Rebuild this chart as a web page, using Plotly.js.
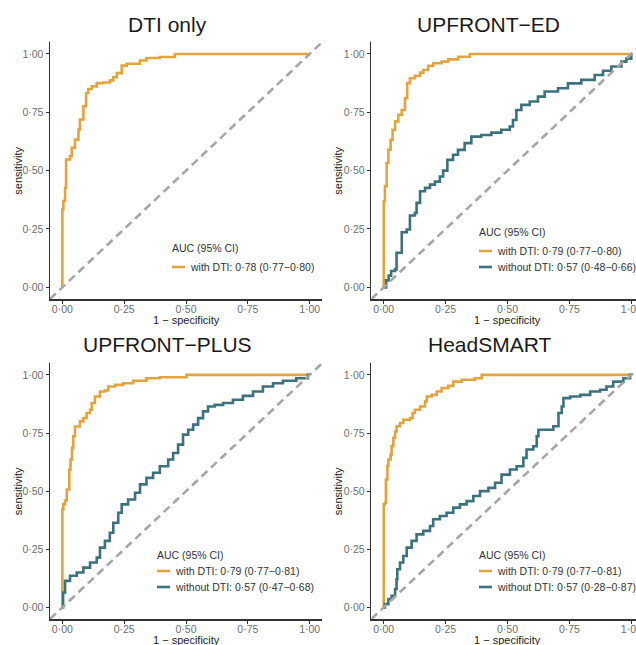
<!DOCTYPE html>
<html>
<head>
<meta charset="utf-8">
<script src="https://cdn.plot.ly/plotly-3.0.1.min.js"></script>
<style>html,body{margin:0;padding:0;background:#fff;}#chart{width:636px;height:645px;}</style>
</head>
<body>
<div id="chart"></div>
<script>
// ---------- data ----------
const panelTitles = ['DTI only', 'UPFRONT−ED', 'UPFRONT−PLUS', 'HeadSMART'];
const tickVals = [0, 0.25, 0.5, 0.75, 1];
const tickLabels = ['0·00', '0·25', '0·50', '0·75', '1·00'];
const xTitle = '1 − specificity';
const yTitle = 'sensitivity';
const legendTitle = 'AUC (95% CI)';
const seriesNames = ['with DTI', 'without DTI'];

const legendDtiOnly = ['with DTI: 0·78 (0·77−0·80)'];
const legendEd = ['with DTI: 0·79 (0·77−0·80)', 'without DTI: 0·57 (0·48−0·66)'];
const legendPlus = ['with DTI: 0·79 (0·77−0·81)', 'without DTI: 0·57 (0·47−0·68)'];
const legendHead = ['with DTI: 0·79 (0·77−0·81)', 'without DTI: 0·57 (0·28−0·87)'];

// DTI only
const dtiWithX = [0, 0, 0.004, 0.011, 0.015, 0.031, 0.038, 0.051, 0.065, 0.071, 0.085, 0.096, 0.105, 0.119, 0.139, 0.166, 0.193, 0.206, 0.22, 0.24, 0.26, 0.314, 0.34, 0.394, 0.455, 1.0];
const dtiWithY = [0, 0.334, 0.37, 0.427, 0.548, 0.562, 0.598, 0.633, 0.676, 0.719, 0.776, 0.833, 0.85, 0.861, 0.875, 0.878, 0.887, 0.9, 0.918, 0.95, 0.958, 0.972, 0.983, 0.987, 1.0, 1.0];

// UPFRONT-ED
const edWithX = [0, 0, 0.005, 0.012, 0.019, 0.028, 0.036, 0.046, 0.059, 0.073, 0.086, 0.095, 0.106, 0.126, 0.147, 0.160, 0.18, 0.2, 0.234, 0.261, 0.301, 0.348, 1.0];
const edWithY = [0, 0.369, 0.433, 0.533, 0.59, 0.632, 0.675, 0.711, 0.739, 0.76, 0.81, 0.875, 0.896, 0.906, 0.92, 0.931, 0.949, 0.96, 0.967, 0.977, 0.988, 1.0, 1.0];
const edWithoutX = [0, 0.01, 0.02, 0.03, 0.046, 0.052, 0.073, 0.093, 0.106, 0.126, 0.133, 0.147, 0.167, 0.187, 0.207, 0.227, 0.24, 0.257, 0.28, 0.30, 0.327, 0.354, 0.394, 0.435, 0.475, 0.509, 0.522, 0.536, 0.556, 0.59, 0.623, 0.65, 0.704, 0.744, 0.798, 0.852, 0.886, 0.919, 0.96, 0.98, 1.0];
const edWithoutY = [0, 0.03, 0.05, 0.07, 0.077, 0.148, 0.236, 0.248, 0.308, 0.319, 0.362, 0.412, 0.426, 0.44, 0.453, 0.475, 0.50, 0.546, 0.568, 0.589, 0.618, 0.646, 0.653, 0.663, 0.675, 0.689, 0.717, 0.76, 0.782, 0.796, 0.817, 0.839, 0.853, 0.874, 0.889, 0.91, 0.928, 0.946, 0.967, 0.98, 1.0];

// UPFRONT-PLUS
const plusWithX = [0, 0, 0.004, 0.011, 0.018, 0.028, 0.033, 0.039, 0.044, 0.051, 0.071, 0.085, 0.098, 0.112, 0.119, 0.132, 0.152, 0.172, 0.186, 0.213, 0.246, 0.287, 0.34, 0.394, 0.502, 1.0];
const plusWithY = [0, 0.421, 0.444, 0.46, 0.507, 0.593, 0.636, 0.686, 0.736, 0.778, 0.8, 0.814, 0.836, 0.85, 0.879, 0.907, 0.929, 0.933, 0.95, 0.957, 0.964, 0.975, 0.986, 0.99, 1.0, 1.0];
const plusWithoutX = [0, 0.003, 0.011, 0.031, 0.058, 0.085, 0.112, 0.139, 0.152, 0.172, 0.192, 0.206, 0.226, 0.24, 0.266, 0.294, 0.314, 0.34, 0.367, 0.394, 0.428, 0.448, 0.468, 0.488, 0.509, 0.529, 0.549, 0.569, 0.589, 0.616, 0.65, 0.69, 0.73, 0.771, 0.811, 0.852, 0.892, 0.946, 0.993, 1.0];
const plusWithoutY = [0, 0.064, 0.114, 0.136, 0.15, 0.171, 0.193, 0.214, 0.257, 0.286, 0.321, 0.364, 0.407, 0.443, 0.464, 0.493, 0.529, 0.557, 0.579, 0.607, 0.636, 0.664, 0.7, 0.743, 0.764, 0.786, 0.814, 0.843, 0.864, 0.871, 0.879, 0.893, 0.91, 0.929, 0.95, 0.964, 0.975, 0.986, 1.0, 1.0];

// HeadSMART
const headWithX = [0, 0, 0.005, 0.009, 0.015, 0.019, 0.028, 0.032, 0.039, 0.046, 0.052, 0.066, 0.079, 0.106, 0.117, 0.126, 0.147, 0.167, 0.174, 0.194, 0.214, 0.234, 0.261, 0.281, 0.315, 0.369, 0.396, 1.0];
const headWithY = [0, 0.443, 0.45, 0.55, 0.607, 0.636, 0.657, 0.693, 0.729, 0.757, 0.779, 0.793, 0.807, 0.814, 0.836, 0.85, 0.864, 0.886, 0.907, 0.914, 0.929, 0.943, 0.953, 0.971, 0.979, 0.986, 1.0, 1.0];
const headWithoutX = [0, 0.005, 0.019, 0.032, 0.046, 0.052, 0.055, 0.066, 0.079, 0.093, 0.113, 0.133, 0.16, 0.187, 0.2, 0.227, 0.254, 0.281, 0.308, 0.335, 0.362, 0.389, 0.423, 0.45, 0.476, 0.51, 0.537, 0.564, 0.577, 0.604, 0.618, 0.625, 0.685, 0.706, 0.719, 0.726, 0.753, 0.794, 0.834, 0.874, 0.9, 0.927, 0.968, 0.995, 1.0];
const headWithoutY = [0, 0.014, 0.036, 0.05, 0.079, 0.121, 0.164, 0.193, 0.221, 0.257, 0.286, 0.314, 0.329, 0.35, 0.379, 0.393, 0.407, 0.429, 0.443, 0.457, 0.479, 0.5, 0.514, 0.536, 0.571, 0.593, 0.607, 0.643, 0.679, 0.693, 0.736, 0.764, 0.779, 0.836, 0.864, 0.9, 0.907, 0.914, 0.929, 0.936, 0.95, 0.971, 0.986, 1.0, 1.0];

const diagonal = [-0.05, 1.05];

// ---------- styling / layout ----------
const W = 636, H = 645;
const FONT = 'Liberation Sans, Arial, Helvetica, sans-serif';
const ORANGE = '#E3A33E';
const TEAL = '#3B727D';
const px = v => v / W;
const py = v => 1 - v / H;

const panels = [
  {title: panelTitles[0], withX: dtiWithX, withY: dtiWithY, legend: legendDtiOnly},
  {title: panelTitles[1], withX: edWithX, withY: edWithY, woX: edWithoutX, woY: edWithoutY, legend: legendEd},
  {title: panelTitles[2], withX: plusWithX, withY: plusWithY, woX: plusWithoutX, woY: plusWithoutY, legend: legendPlus},
  {title: panelTitles[3], withX: headWithX, withY: headWithY, woX: headWithoutX, woY: headWithoutY, legend: legendHead}
];

// pixel geometry of each panel
const geo = [
  {x0: 50, x1: 322, xr: [-0.05, 1.05], y0: 42.3, y1: 299, tx: 167, ty: 25, lx: 172, ltY: 248, lY: [267], xtY: 320, ytX: 18},
  {x0: 371.3, x1: 636, xr: [-0.05, 1.019], y0: 42.3, y1: 299, tx: 488, ty: 25, lx: 479, ltY: 232, lY: [251, 267], xtY: 320, ytX: 338},
  {x0: 50, x1: 322, xr: [-0.05, 1.05], y0: 363.3, y1: 619, tx: 167.5, ty: 345, lx: 157, ltY: 555, lY: [571, 587], xtY: 640, ytX: 18},
  {x0: 371.3, x1: 636, xr: [-0.05, 1.019], y0: 363.3, y1: 619, tx: 489.5, ty: 345, lx: 479, ltY: 555, lY: [571, 587], xtY: 640, ytX: 338}
];

const traces = [];
const layout = {
  width: W, height: H,
  margin: {l: 0, r: 0, t: 0, b: 0},
  paper_bgcolor: '#fff', plot_bgcolor: '#fff',
  showlegend: false,
  font: {family: FONT},
  annotations: [], shapes: []
};

panels.forEach((p, i) => {
  const g = geo[i];
  const n = i === 0 ? '' : String(i + 1);
  const xa = 'x' + n, ya = 'y' + n;
  const common = {
    showline: true, linecolor: '#333', linewidth: 1.5,
    ticks: 'outside', ticklen: 3, tickwidth: 1, tickcolor: '#333',
    tickvals: tickVals, ticktext: tickLabels, ticklabeloverflow: 'allow',
    tickfont: {size: 10.5, color: '#6e6e6e', family: FONT},
    showgrid: false, zeroline: false, fixedrange: true
  };
  layout['xaxis' + n] = Object.assign({}, common, {
    domain: [px(g.x0), px(g.x1)], range: g.xr, anchor: ya, ticklabelstandoff: -3
  });
  layout['yaxis' + n] = Object.assign({}, common, {
    domain: [py(g.y1), py(g.y0)], range: [-0.05, 1.05], anchor: xa
  });

  traces.push({x: p.withX, y: p.withY, xaxis: xa, yaxis: ya, type: 'scatter', mode: 'lines',
    name: seriesNames[0], line: {color: ORANGE, width: 2.6, shape: 'hv'}, hoverinfo: 'skip'});
  if (p.woX) {
    traces.push({x: p.woX, y: p.woY, xaxis: xa, yaxis: ya, type: 'scatter', mode: 'lines',
      name: seriesNames[1], line: {color: TEAL, width: 2.6, shape: 'hv'}, hoverinfo: 'skip'});
  }
  traces.push({x: diagonal, y: diagonal, xaxis: xa, yaxis: ya, type: 'scatter', mode: 'lines',
    name: 'reference', line: {color: '#A6A6A6', width: 2.6, dash: '8px,5px'}, hoverinfo: 'skip'});

  // x axis title
  layout.annotations.push({text: xTitle, xref: xa + ' domain', yref: 'paper',
    x: (0.5 - g.xr[0]) / (g.xr[1] - g.xr[0]), y: py(g.xtY),
    xanchor: 'center', yanchor: 'middle', showarrow: false, borderpad: 0,
    font: {size: 11, color: '#222', family: FONT}});
  // y axis title
  layout.annotations.push({text: yTitle, xref: 'paper', yref: ya + ' domain',
    x: px(g.ytX), y: 0.5, textangle: -90,
    xanchor: 'center', yanchor: 'middle', showarrow: false, borderpad: 0,
    font: {size: 11, color: '#222', family: FONT}});
  // panel title
  layout.annotations.push({text: p.title, xref: 'paper', yref: 'paper', x: px(g.tx), y: py(g.ty),
    xanchor: 'center', yanchor: 'middle', showarrow: false,
    font: {size: 21, color: '#1a1a1a', family: FONT}});
  // legend title
  layout.annotations.push({text: legendTitle, xref: 'paper', yref: 'paper', x: px(g.lx - 2), y: py(g.ltY),
    xanchor: 'left', yanchor: 'middle', showarrow: false,
    font: {size: 10.5, color: '#333', family: FONT}});
  p.legend.forEach((lab, k) => {
    const yy = g.lY[k];
    layout.shapes.push({type: 'line', xref: 'paper', yref: 'paper',
      x0: px(g.lx), x1: px(g.lx + 13), y0: py(yy), y1: py(yy),
      line: {color: k === 0 ? ORANGE : TEAL, width: 2.6}});
    layout.annotations.push({text: lab, xref: 'paper', yref: 'paper', x: px(g.lx + 16), y: py(yy),
      xanchor: 'left', yanchor: 'middle', showarrow: false,
      font: {size: 10.5, color: '#333', family: FONT}});
  });
});

Plotly.newPlot('chart', traces, layout, {displayModeBar: false, staticPlot: true});
</script>
</body>
</html>
